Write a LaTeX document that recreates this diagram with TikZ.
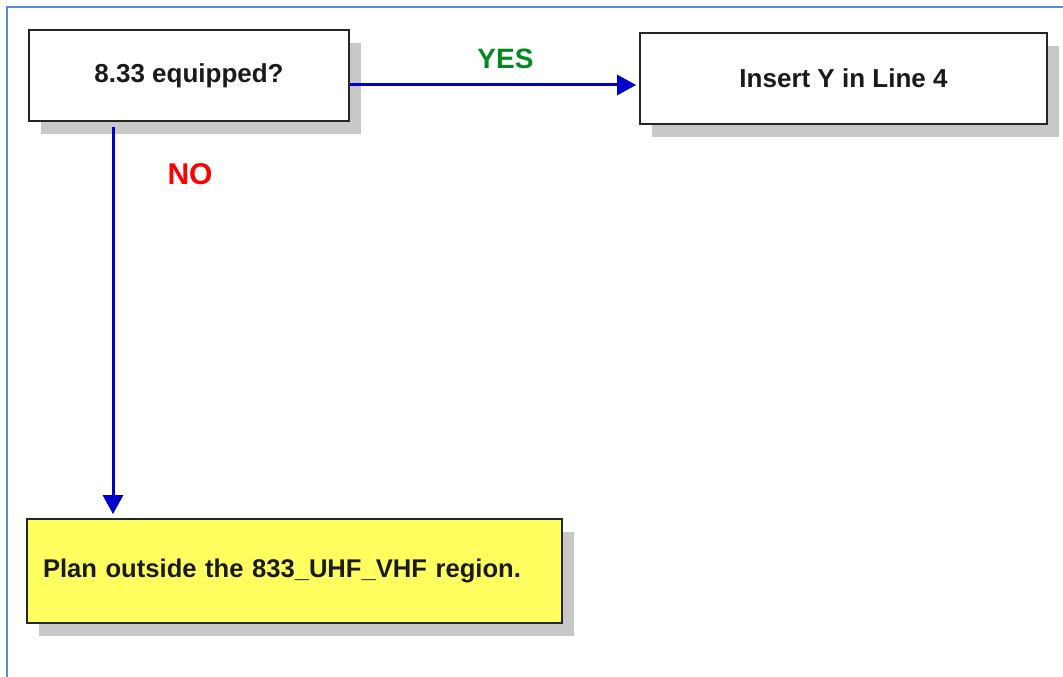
\documentclass[tikz,border=0pt]{standalone}
\usepackage{fontspec}
\setmainfont{Liberation Sans}
\usetikzlibrary{arrows.meta,shadows}
\definecolor{framecol}{HTML}{5B8BD0}
\definecolor{arrcol}{HTML}{0000CC}
\definecolor{shadowcol}{HTML}{C8C8C8}
\definecolor{boxyellow}{HTML}{FFFF60}
\definecolor{txtcol}{HTML}{1A1A1A}
\definecolor{yescol}{HTML}{008A20}
\definecolor{nocol}{HTML}{FF0000}
\tikzset{
  flowbox/.style={draw=black!85, line width=1.8pt, fill=white, rectangle,
    text=txtcol, font=\bfseries\fontsize{26}{30}\selectfont,
    drop shadow={shadow xshift=12pt, shadow yshift=-13pt, fill=shadowcol, opacity=1}},
  arr/.style={draw=arrcol, line width=3pt, -{Triangle[length=19pt,width=20pt]}},
  lbl/.style={font=\bfseries\fontsize{#1}{#1}\selectfont},
}
\begin{document}
\begin{tikzpicture}[x=1pt,y=-1pt]
\useasboundingbox (0,0) rectangle (1063,677);
\draw[framecol, line width=1.5pt] (7,690) -- (7,7) -- (1075,7);
\node[flowbox, minimum width=320pt, minimum height=91pt] (b1) at (189,75.5) {8.33 equipped?};
\node[flowbox, minimum width=407pt, minimum height=91pt] (b2) at (843.5,78.5) {Insert Y in Line 4};
\node[flowbox, fill=boxyellow, minimum width=535pt, minimum height=104pt,
      inner xsep=16pt, text width=503pt, align=left,
      font=\bfseries\fontsize{25.6}{30}\selectfont] (b3) at (294.5,571) {Plan outside the 833\_UHF\_VHF region.};
\coordinate (s1) at ([yshift=-9.5pt]b1.east);
\draw[arr, shorten >=3pt] (s1) -- (s1 -| b2.west);
\coordinate (s2) at ([xshift=-76pt,yshift=-5pt]b1.south);
\draw[arr, shorten >=4pt] (s2) -- (s2 |- b3.north);
\node[lbl=28, text=yescol] (yes) at (505.5,59) {YES};
\node[lbl=30, text=nocol] (no) at (190,174) {NO};
\end{tikzpicture}
\end{document}
